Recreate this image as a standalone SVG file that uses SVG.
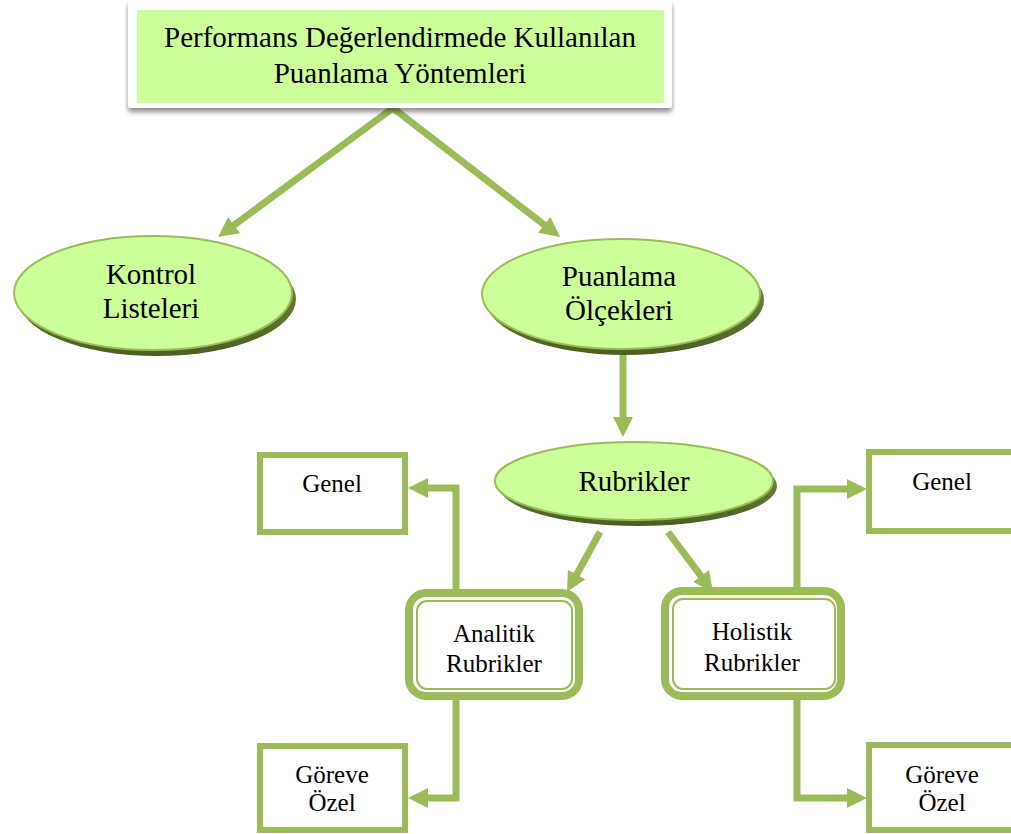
<svg xmlns="http://www.w3.org/2000/svg" width="1011" height="834" viewBox="0 0 1011 834">
  <defs>
    <marker id="head" markerUnits="userSpaceOnUse" markerWidth="22" markerHeight="22" refX="2" refY="10" orient="auto">
      <path d="M0,0 L20,10 L0,20 z" fill="#9BBB59"/>
    </marker>
    <filter id="cardShadow" x="-5%" y="-10%" width="110%" height="130%">
      <feGaussianBlur in="SourceAlpha" stdDeviation="2.5"/>
      <feOffset dx="0" dy="4"/>
      <feComponentTransfer><feFuncA type="linear" slope="0.45"/></feComponentTransfer>
      <feMerge><feMergeNode/><feMergeNode in="SourceGraphic"/></feMerge>
    </filter>
    <linearGradient id="bevel" x1="0" y1="0" x2="0" y2="1">
      <stop offset="0" stop-color="#7A9A3C"/>
      <stop offset="1" stop-color="#4A5F22"/>
    </linearGradient>
  </defs>
  <style>
    text { font-family: "Liberation Serif", "Times New Roman", Times, "DejaVu Serif", serif; fill: #000; text-anchor: middle; }
    .big { font-size: 29px; }
    .mid { font-size: 29px; }
    .small { font-size: 25px; }
    .oval { fill: #CCFF99; stroke: #9BBB59; stroke-width: 2; }
    .ovalShadow { fill: url(#bevel); }
    .box { fill: #FFFFFF; stroke: #9BBB59; stroke-width: 6; }
    .outer { fill: #FFFFFF; stroke: #9BBB59; stroke-width: 8; }
    .inner { fill: none; stroke: #9BBB59; stroke-width: 2; }
    .link { fill: none; stroke: #9BBB59; stroke-width: 7; marker-end: url(#head); }
  </style>

  <rect width="1011" height="834" fill="#FFFFFF"/>

  <!-- connectors -->
  <g id="connectors">
    <path class="link" d="M393,108 L232.5,226.3"/>
    <path class="link" d="M393,108 L545.8,226"/>
    <path class="link" d="M623,350 L623,419"/>
    <path class="link" d="M600,532 L575.7,576.2"/>
    <path class="link" d="M668,532 L702.2,577.6"/>
    <path class="link" d="M456,589 V488 H426"/>
    <path class="link" d="M456,700 V798 H426"/>
    <path class="link" d="M797,587 V489 H849"/>
    <path class="link" d="M797,700 V798 H849"/>
  </g>

  <!-- title card -->
  <g id="title">
    <rect x="128" y="0" width="544" height="108" rx="3" fill="#FFFFFF" filter="url(#cardShadow)"/>
    <rect x="137" y="10" width="527" height="93" fill="#CCFF99"/>
    <text class="big" x="400" y="47">Performans Değerlendirmede Kullanılan</text>
    <text class="big" x="400" y="83">Puanlama Yöntemleri</text>
  </g>

  <!-- Kontrol Listeleri -->
  <g id="kontrol">
    <ellipse class="ovalShadow" cx="157" cy="299" rx="139" ry="57"/>
    <ellipse class="oval" cx="153" cy="293" rx="139" ry="57"/>
    <text class="mid" x="151" y="284">Kontrol</text>
    <text class="mid" x="151" y="318">Listeleri</text>
  </g>

  <!-- Puanlama Ölçekleri -->
  <g id="puanlama">
    <ellipse class="ovalShadow" cx="625" cy="300" rx="139" ry="55"/>
    <ellipse class="oval" cx="621" cy="294" rx="139" ry="55"/>
    <text class="mid" x="619" y="286">Puanlama</text>
    <text class="mid" x="619" y="320">Ölçekleri</text>
  </g>

  <!-- Rubrikler -->
  <g id="rubrikler">
    <ellipse class="ovalShadow" cx="638" cy="486" rx="139" ry="40"/>
    <ellipse class="oval" cx="634" cy="481" rx="139" ry="39"/>
    <text class="mid" x="634" y="491">Rubrikler</text>
  </g>

  <!-- Analitik Rubrikler -->
  <g id="analitik">
    <rect class="outer" x="409" y="593" width="170" height="103" rx="17"/>
    <rect class="inner" x="417" y="601" width="155" height="88" rx="10"/>
    <text class="small" x="494" y="642">Analitik</text>
    <text class="small" x="494" y="672">Rubrikler</text>
  </g>

  <!-- Holistik Rubrikler -->
  <g id="holistik">
    <rect class="outer" x="665" y="591" width="176" height="105" rx="17"/>
    <rect class="inner" x="673" y="599" width="162" height="90" rx="10"/>
    <text class="small" x="752" y="640">Holistik</text>
    <text class="small" x="752" y="671">Rubrikler</text>
  </g>

  <!-- Genel (left) -->
  <g id="genel-left">
    <rect class="box" x="260" y="455" width="145" height="77"/>
    <text class="small" x="332" y="492">Genel</text>
  </g>

  <!-- Genel (right) -->
  <g id="genel-right">
    <rect class="box" x="869" y="452" width="160" height="79"/>
    <text class="small" x="942" y="490">Genel</text>
  </g>

  <!-- Göreve Özel (left) -->
  <g id="goreve-left">
    <rect class="box" x="260" y="746" width="145" height="84"/>
    <text class="small" x="332" y="783">Göreve</text>
    <text class="small" x="332" y="811">Özel</text>
  </g>

  <!-- Göreve Özel (right) -->
  <g id="goreve-right">
    <rect class="box" x="869" y="745" width="160" height="85"/>
    <text class="small" x="942" y="783">Göreve</text>
    <text class="small" x="942" y="811">Özel</text>
  </g>
</svg>
